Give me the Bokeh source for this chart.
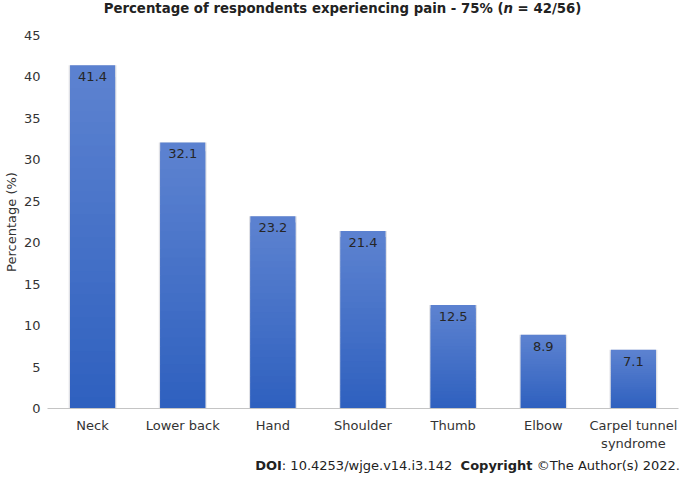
import numpy as np
from bokeh.plotting import figure
from bokeh.models import FactorRange, Range1d, SingleIntervalTicker, ColumnDataSource, Div
from bokeh.layouts import column
from bokeh.core.properties import value
from bokeh.embed import file_html
from bokeh.resources import INLINE

# ---- data ----
categories = ["Neck", "Lower back", "Hand", "Shoulder", "Thumb", "Elbow", "Carpel tunnel\nsyndrome"]
percentages = [41.4, 32.1, 23.2, 21.4, 12.5, 8.9, 7.1]
title_html = "Percentage of respondents experiencing pain - 75% (<i>n</i> = 42/56)"
footer_html = "<b>DOI</b>: 10.4253/wjge.v14.i3.142&nbsp;&nbsp;<b>Copyright</b> \u00a9The Author(s) 2022."
y_label = "Percentage (%)"

FONT = "DejaVu Sans"
TXT = "#333333"

title_div = Div(text=title_html, width=685, height=20, margin=0,
                styles={"font-family": FONT, "font-size": "13.3px", "font-weight": "bold",
                        "text-align": "center", "color": "#222222", "line-height": "18px"})

p = figure(x_range=FactorRange(factors=categories, range_padding=0),
           y_range=Range1d(0, 45),
           width=685, height=435,
           output_backend="svg", toolbar_location=None,
           min_border_left=46, min_border_right=7,
           min_border_top=15, min_border_bottom=47, margin=0)
p.outline_line_color = None
p.xgrid.grid_line_color = None
p.ygrid.grid_line_color = None

# ---- gradient bars (sliced, per bar light top -> dark bottom) ----
top_rgb = np.array([0x5c, 0x82, 0xd0])
bot_rgb = np.array([0x2d, 0x5f, 0xbe])
N = 30
xs, bots, tops, cols = [], [], [], []
for c, v in zip(categories, percentages):
    step = v / N
    for i in range(N):
        f = (i + 0.5) / N
        rgb = (bot_rgb + (top_rgb - bot_rgb) * f).round().astype(int)
        xs.append(c)
        bots.append(max(0.0, step * i - step))
        tops.append(step * (i + 1))
        cols.append("#%02x%02x%02x" % tuple(rgb))

# faint shadow behind bars
p.vbar(x=categories, top=percentages, width=0.53, fill_color="#c9ccd3",
       fill_alpha=0.6, line_color=None)
src = ColumnDataSource(dict(x=xs, bottom=bots, top=tops, color=cols))
p.vbar(x="x", bottom="bottom", top="top", width=0.5, source=src,
       fill_color="color", line_color=None)

# value labels inside bar tops
p.text(x=categories, y=percentages, text=[f"{v:.1f}" for v in percentages],
       text_align="center", text_baseline="top", y_offset=7,
       text_font=value(FONT), text_font_size="13px", text_color="#262626")

# ---- axes ----
p.yaxis.ticker = SingleIntervalTicker(interval=5)
p.yaxis.axis_line_color = None
p.yaxis.major_tick_line_color = None
p.yaxis.minor_tick_line_color = None
p.yaxis.major_label_standoff = 1
p.yaxis.major_label_text_font = FONT
p.yaxis.major_label_text_font_size = "13px"
p.yaxis.major_label_text_color = TXT
p.yaxis.axis_label = y_label
p.yaxis.axis_label_standoff = 2
p.yaxis.axis_label_text_font = FONT
p.yaxis.axis_label_text_font_size = "13px"
p.yaxis.axis_label_text_font_style = "normal"
p.yaxis.axis_label_text_color = TXT

p.xaxis.axis_line_color = "#c4c4c4"
p.xaxis.axis_line_width = 1
p.xaxis.major_tick_line_color = None
p.xaxis.minor_tick_line_color = None
p.xaxis.major_label_standoff = 3
p.xaxis.major_label_text_font = FONT
p.xaxis.major_label_text_font_size = "13px"
p.xaxis.major_label_text_color = TXT

footer_div = Div(text=footer_html, width=685, height=22, margin=0,
                 styles={"font-family": FONT, "font-size": "13px", "text-align": "right",
                         "color": "#222222", "line-height": "22px", "padding-right": "5px",
                         "box-sizing": "border-box"})

layout = column(title_div, p, footer_div, spacing=0, margin=0)
open("out.html", "w").write(file_html(layout, INLINE))
